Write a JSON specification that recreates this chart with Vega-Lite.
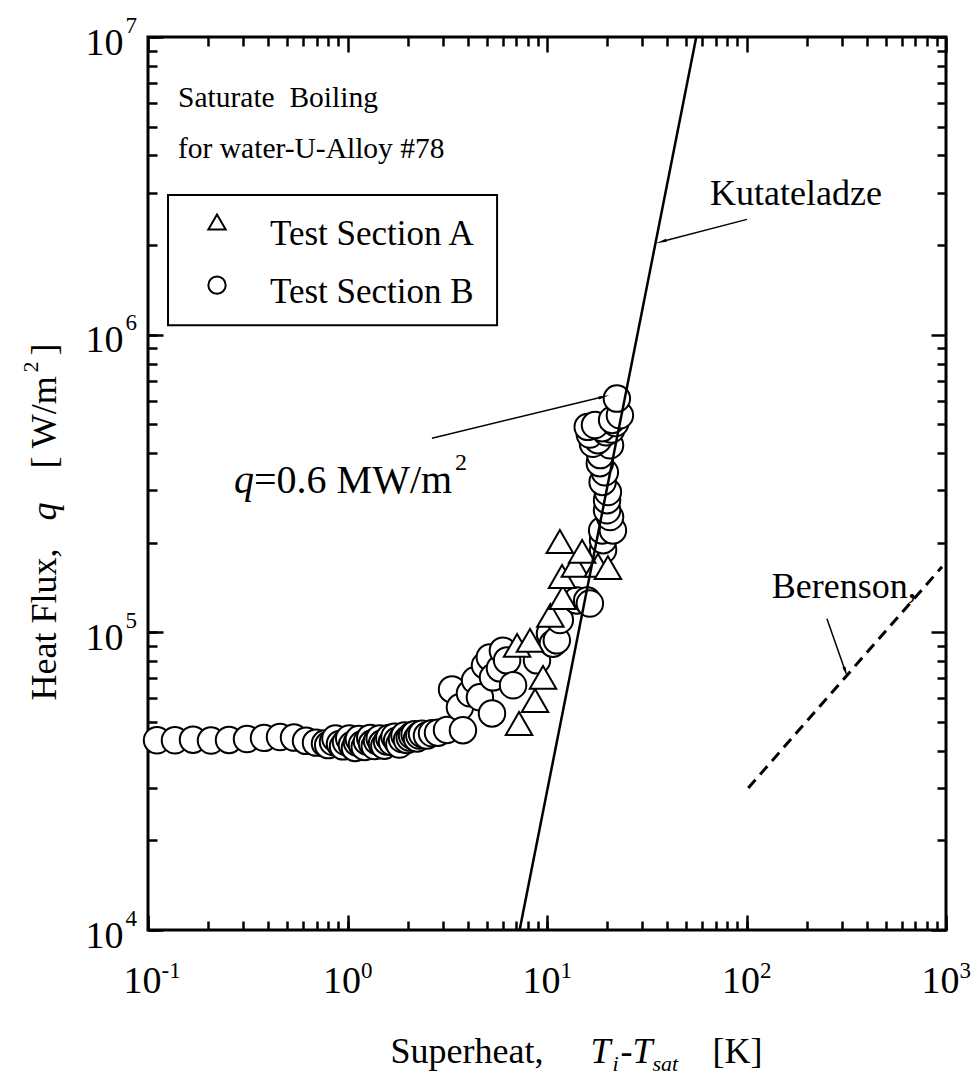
{
  "$schema": "https://vega.github.io/schema/vega-lite/v6.json",
  "width": 798,
  "height": 893,
  "autosize": "none",
  "padding": {"left": 148, "top": 37, "right": 28, "bottom": 157},
  "background": "white",
  "config": {
    "view": {"stroke": "black", "strokeWidth": 3},
    "font": "Liberation Serif",
    "axis": {"domain": false, "grid": false, "tickColor": "black", "tickWidth": 2.5, "labelColor": "black", "titleColor": "black", "labelFont": "Liberation Serif", "titleFont": "Liberation Serif", "labelFontWeight": "normal", "titleFontWeight": "normal", "labelFlush": false, "labelOverlap": false}
  },
  "resolve": {"axis": {"x": "independent", "y": "independent"}},
  "layer": [
    {
      "data": {"values": [
        {"section": "Test Section B", "dT": 0.111, "q": 43400},
        {"section": "Test Section B", "dT": 0.1365, "q": 43400},
        {"section": "Test Section B", "dT": 0.1681, "q": 43600},
        {"section": "Test Section B", "dT": 0.2069, "q": 43300},
        {"section": "Test Section B", "dT": 0.2547, "q": 43500},
        {"section": "Test Section B", "dT": 0.3134, "q": 43800},
        {"section": "Test Section B", "dT": 0.3815, "q": 44200},
        {"section": "Test Section B", "dT": 0.4588, "q": 44500},
        {"section": "Test Section B", "dT": 0.5393, "q": 44300},
        {"section": "Test Section B", "dT": 0.6194, "q": 43200},
        {"section": "Test Section B", "dT": 0.6953, "q": 42600},
        {"section": "Test Section B", "dT": 0.7713, "q": 42300},
        {"section": "Test Section B", "dT": 0.80, "q": 41800},
        {"section": "Test Section B", "dT": 0.8459, "q": 42800},
        {"section": "Test Section B", "dT": 0.87, "q": 44000},
        {"section": "Test Section B", "dT": 0.9171, "q": 42200},
        {"section": "Test Section B", "dT": 0.95, "q": 41400},
        {"section": "Test Section B", "dT": 0.9829, "q": 42800},
        {"section": "Test Section B", "dT": 1.02, "q": 44000},
        {"section": "Test Section B", "dT": 1.053, "q": 41800},
        {"section": "Test Section B", "dT": 1.09, "q": 40900},
        {"section": "Test Section B", "dT": 1.116, "q": 42700},
        {"section": "Test Section B", "dT": 1.14, "q": 43800},
        {"section": "Test Section B", "dT": 1.182, "q": 42000},
        {"section": "Test Section B", "dT": 1.22, "q": 41200},
        {"section": "Test Section B", "dT": 1.252, "q": 43000},
        {"section": "Test Section B", "dT": 1.30, "q": 44200},
        {"section": "Test Section B", "dT": 1.327, "q": 42300},
        {"section": "Test Section B", "dT": 1.37, "q": 41500},
        {"section": "Test Section B", "dT": 1.406, "q": 43200},
        {"section": "Test Section B", "dT": 1.45, "q": 44000},
        {"section": "Test Section B", "dT": 1.489, "q": 42300},
        {"section": "Test Section B", "dT": 1.53, "q": 41600},
        {"section": "Test Section B", "dT": 1.578, "q": 43000},
        {"section": "Test Section B", "dT": 1.62, "q": 44200},
        {"section": "Test Section B", "dT": 1.672, "q": 42800},
        {"section": "Test Section B", "dT": 1.72, "q": 44600},
        {"section": "Test Section B", "dT": 1.771, "q": 43200},
        {"section": "Test Section B", "dT": 1.82, "q": 42000},
        {"section": "Test Section B", "dT": 1.876, "q": 43800},
        {"section": "Test Section B", "dT": 1.93, "q": 45000},
        {"section": "Test Section B", "dT": 1.987, "q": 43500},
        {"section": "Test Section B", "dT": 2.05, "q": 44300},
        {"section": "Test Section B", "dT": 2.106, "q": 45000},
        {"section": "Test Section B", "dT": 2.17, "q": 45500},
        {"section": "Test Section B", "dT": 2.231, "q": 44000},
        {"section": "Test Section B", "dT": 2.29, "q": 45000},
        {"section": "Test Section B", "dT": 2.363, "q": 45600},
        {"section": "Test Section B", "dT": 2.503, "q": 45000},
        {"section": "Test Section B", "dT": 2.652, "q": 45800},
        {"section": "Test Section B", "dT": 2.842, "q": 46000},
        {"section": "Test Section B", "dT": 3.153, "q": 47000},
        {"section": "Test Section B", "dT": 3.341, "q": 64300},
        {"section": "Test Section B", "dT": 3.66, "q": 56000},
        {"section": "Test Section B", "dT": 3.79, "q": 46900},
        {"section": "Test Section B", "dT": 4.11, "q": 62400},
        {"section": "Test Section B", "dT": 4.36, "q": 69000},
        {"section": "Test Section B", "dT": 4.61, "q": 60500},
        {"section": "Test Section B", "dT": 4.89, "q": 77400},
        {"section": "Test Section B", "dT": 5.17, "q": 82400},
        {"section": "Test Section B", "dT": 5.30, "q": 53400},
        {"section": "Test Section B", "dT": 5.36, "q": 70600},
        {"section": "Test Section B", "dT": 5.81, "q": 75700},
        {"section": "Test Section B", "dT": 6.01, "q": 86800},
        {"section": "Test Section B", "dT": 6.31, "q": 80500},
        {"section": "Test Section B", "dT": 6.76, "q": 66400},
        {"section": "Test Section B", "dT": 8.91, "q": 80500},
        {"section": "Test Section B", "dT": 10.35, "q": 99000},
        {"section": "Test Section B", "dT": 10.7, "q": 91600},
        {"section": "Test Section B", "dT": 11.2, "q": 94000},
        {"section": "Test Section B", "dT": 11.6, "q": 110000},
        {"section": "Test Section B", "dT": 14.1, "q": 128000},
        {"section": "Test Section B", "dT": 15.9, "q": 128000},
        {"section": "Test Section B", "dT": 16.4, "q": 125000},
        {"section": "Test Section B", "dT": 19.1, "q": 189000},
        {"section": "Test Section B", "dT": 19.1, "q": 204000},
        {"section": "Test Section B", "dT": 18.9, "q": 220000},
        {"section": "Test Section B", "dT": 21.4, "q": 220000},
        {"section": "Test Section B", "dT": 20.7, "q": 244000},
        {"section": "Test Section B", "dT": 20.0, "q": 257000},
        {"section": "Test Section B", "dT": 20.0, "q": 278000},
        {"section": "Test Section B", "dT": 20.2, "q": 296000},
        {"section": "Test Section B", "dT": 19.0, "q": 320000},
        {"section": "Test Section B", "dT": 19.5, "q": 345000},
        {"section": "Test Section B", "dT": 18.4, "q": 370000},
        {"section": "Test Section B", "dT": 18.5, "q": 394000},
        {"section": "Test Section B", "dT": 20.7, "q": 425000},
        {"section": "Test Section B", "dT": 17.0, "q": 430000},
        {"section": "Test Section B", "dT": 18.0, "q": 442000},
        {"section": "Test Section B", "dT": 16.4, "q": 462000},
        {"section": "Test Section B", "dT": 19.8, "q": 470000},
        {"section": "Test Section B", "dT": 21.0, "q": 480000},
        {"section": "Test Section B", "dT": 18.9, "q": 485000},
        {"section": "Test Section B", "dT": 16.0, "q": 490000},
        {"section": "Test Section B", "dT": 17.4, "q": 497000},
        {"section": "Test Section B", "dT": 22.0, "q": 505000},
        {"section": "Test Section B", "dT": 21.2, "q": 517000},
        {"section": "Test Section B", "dT": 23.2, "q": 536000},
        {"section": "Test Section B", "dT": 22.4, "q": 610000},
        {"section": "Test Section A", "dT": 7.24, "q": 49400},
        {"section": "Test Section A", "dT": 8.71, "q": 59000},
        {"section": "Test Section A", "dT": 9.55, "q": 70600},
        {"section": "Test Section A", "dT": 7.08, "q": 90400},
        {"section": "Test Section A", "dT": 8.22, "q": 94000},
        {"section": "Test Section A", "dT": 10.4, "q": 114000},
        {"section": "Test Section A", "dT": 12.0, "q": 131000},
        {"section": "Test Section A", "dT": 11.9, "q": 154000},
        {"section": "Test Section A", "dT": 13.8, "q": 168000},
        {"section": "Test Section A", "dT": 18.0, "q": 168000},
        {"section": "Test Section A", "dT": 20.2, "q": 165000},
        {"section": "Test Section A", "dT": 15.0, "q": 187000},
        {"section": "Test Section A", "dT": 11.6, "q": 202000}
      ]},
      "mark": {"type": "point", "filled": true, "fill": "white", "stroke": "black", "strokeWidth": 2, "size": 700, "opacity": 1},
      "encoding": {
        "x": {"field": "dT", "type": "quantitative", "scale": {"type": "log", "domain": [0.1, 1000], "nice": false},
          "axis": {"orient": "bottom", "values": [0.1, 1, 10, 100, 1000], "tickSize": -15, "labelExpr": "'10'", "labelFontSize": 38, "labelPadding": 47, "labelOffset": -6, "labelBaseline": "top",
            "title": "Superheat,", "titleFontSize": 36, "titleX": 242, "titleY": 132, "titleAlign": "left", "titleBaseline": "alphabetic", "titleAngle": 0}},
        "y": {"field": "q", "type": "quantitative", "scale": {"type": "log", "domain": [10000, 10000000], "nice": false},
          "axis": {"orient": "left", "values": [10000, 100000, 1000000, 10000000], "tickSize": -15, "labelExpr": "'10'", "labelFontSize": 38, "labelPadding": 40, "labelOffset": 6, "labelBaseline": "middle",
            "title": "Heat Flux,", "titleFontSize": 36, "titleAngle": -90, "titleX": -93, "titleY": 663, "titleAlign": "left", "titleBaseline": "alphabetic"}},
        "shape": {"field": "section", "type": "nominal",
          "scale": {"domain": ["Test Section A", "Test Section B"], "range": ["triangle-up", "circle"]},
          "legend": null}
      }
    },
    {
      "data": {"values": [{"dT": 7.29, "q": 10000}, {"dT": 56.0, "q": 10000000}]},
      "mark": {"type": "line", "color": "black", "strokeWidth": 2.5},
      "encoding": {
        "x": {"field": "dT", "type": "quantitative", "scale": {"type": "log", "domain": [0.1, 1000], "nice": false},
          "axis": {"orient": "bottom", "values": [0.1, 0.2, 0.3, 0.4, 0.5, 0.6, 0.7, 0.8, 0.9, 1, 2, 3, 4, 5, 6, 7, 8, 9, 10, 20, 30, 40, 50, 60, 70, 80, 90, 100, 200, 300, 400, 500, 600, 700, 800, 900, 1000],
            "tickSize": -9, "labelExpr": "datum.value == 0.1 ? '-1' : datum.value == 1 ? '0' : datum.value == 10 ? '1' : datum.value == 100 ? '2' : datum.value == 1000 ? '3' : ''",
            "labelFontSize": 23, "labelAlign": "left", "labelOffset": 13, "labelPadding": 38, "labelBaseline": "top",
            "title": "T", "titleFontStyle": "italic", "titleFontSize": 36, "titleX": 442, "titleY": 132, "titleAlign": "left", "titleBaseline": "alphabetic", "titleAngle": 0}},
        "y": {"field": "q", "type": "quantitative", "scale": {"type": "log", "domain": [10000, 10000000], "nice": false},
          "axis": {"orient": "left", "values": [10000, 20000, 30000, 40000, 50000, 60000, 70000, 80000, 90000, 100000, 200000, 300000, 400000, 500000, 600000, 700000, 800000, 900000, 1000000, 2000000, 3000000, 4000000, 5000000, 6000000, 7000000, 8000000, 9000000, 10000000],
            "tickSize": -9, "labelExpr": "datum.value == 10000 ? '4' : datum.value == 100000 ? '5' : datum.value == 1000000 ? '6' : datum.value == 10000000 ? '7' : ''",
            "labelFontSize": 23, "labelAlign": "left", "labelPadding": 32, "labelOffset": -12, "labelBaseline": "middle",
            "title": "q", "titleFontStyle": "italic", "titleFontSize": 36, "titleAngle": -90, "titleX": -93, "titleY": 483, "titleAlign": "left", "titleBaseline": "alphabetic"}}
      }
    },
    {
      "data": {"values": [{"dT": 102, "q": 30000}, {"dT": 955, "q": 166000}]},
      "mark": {"type": "line", "color": "black", "strokeWidth": 3, "strokeDash": [11, 7]},
      "encoding": {
        "x": {"field": "dT", "type": "quantitative", "scale": {"type": "log", "domain": [0.1, 1000], "nice": false},
          "axis": {"orient": "top", "values": [0.1, 1, 10, 100, 1000], "tickSize": -15, "labels": false,
            "title": "i", "titleFontStyle": "italic", "titleFontSize": 22, "titleX": 464, "titleY": 1033, "titleAlign": "left", "titleBaseline": "alphabetic", "titleAngle": 0}},
        "y": {"field": "q", "type": "quantitative", "scale": {"type": "log", "domain": [10000, 10000000], "nice": false},
          "axis": {"orient": "right", "values": [10000, 100000, 1000000, 10000000], "tickSize": -15, "labels": false,
            "title": "[ W/m", "titleFontSize": 36, "titleAngle": -90, "titleX": -891, "titleY": 431, "titleAlign": "left", "titleBaseline": "alphabetic"}}
      }
    },
    {
      "data": {"values": [
        {"dT": 100.6, "q": 2440000, "dT2": 38.1, "q2": 2060000},
        {"dT": 2.65, "q": 449000, "dT2": 18.9, "q2": 617000},
        {"dT": 253, "q": 111000, "dT2": 312, "q2": 74500}
      ]},
      "mark": {"type": "rule", "color": "black", "strokeWidth": 1.5},
      "encoding": {
        "x": {"field": "dT", "type": "quantitative", "scale": {"type": "log", "domain": [0.1, 1000], "nice": false},
          "axis": {"orient": "top", "values": [0.2, 0.3, 0.4, 0.5, 0.6, 0.7, 0.8, 0.9, 2, 3, 4, 5, 6, 7, 8, 9, 20, 30, 40, 50, 60, 70, 80, 90, 200, 300, 400, 500, 600, 700, 800, 900], "tickSize": -9, "labels": false,
            "title": "-T", "titleFontStyle": "italic", "titleFontSize": 36, "titleX": 472, "titleY": 1025, "titleAlign": "left", "titleBaseline": "alphabetic", "titleAngle": 0}},
        "y": {"field": "q", "type": "quantitative", "scale": {"type": "log", "domain": [10000, 10000000], "nice": false},
          "axis": {"orient": "right", "values": [20000, 30000, 40000, 50000, 60000, 70000, 80000, 90000, 200000, 300000, 400000, 500000, 600000, 700000, 800000, 900000, 2000000, 3000000, 4000000, 5000000, 6000000, 7000000, 8000000, 9000000], "tickSize": -9, "labels": false,
            "title": "2", "titleFontSize": 22, "titleAngle": -90, "titleX": -909, "titleY": 335, "titleAlign": "left", "titleBaseline": "alphabetic"}},
        "x2": {"field": "dT2"},
        "y2": {"field": "q2"}
      }
    },
    {
      "data": {"values": [
        {"dT": 0.1414, "q": 5820000, "label": "Saturate\u00a0\u00a0Boiling"},
        {"dT": 0.1414, "q": 3920000, "label": "for water-U-Alloy #78"}
      ]},
      "mark": {"type": "text", "align": "left", "baseline": "alphabetic", "fontSize": 29.5, "font": "Liberation Serif", "color": "black"},
      "encoding": {
        "x": {"field": "dT", "type": "quantitative", "scale": {"type": "log", "domain": [0.1, 1000], "nice": false},
          "axis": {"orient": "bottom", "ticks": false, "labels": false,
            "title": "sat", "titleFontStyle": "italic", "titleFontSize": 22, "titleX": 504, "titleY": 140, "titleAlign": "left", "titleBaseline": "alphabetic", "titleAngle": 0}},
        "y": {"field": "q", "type": "quantitative", "scale": {"type": "log", "domain": [10000, 10000000], "nice": false},
          "axis": {"orient": "left", "ticks": false, "labels": false,
            "title": "]", "titleFontSize": 36, "titleAngle": -90, "titleX": -93, "titleY": 318, "titleAlign": "left", "titleBaseline": "alphabetic"}},
        "text": {"field": "label"}
      }
    },
    {
      "data": {"values": [
        {"dT": 65.6, "q": 2720000, "label": "Kutateladze"},
        {"dT": 134, "q": 130000, "label": "Berenson,"}
      ]},
      "mark": {"type": "text", "align": "left", "baseline": "alphabetic", "fontSize": 36, "font": "Liberation Serif", "color": "black"},
      "encoding": {
        "x": {"field": "dT", "type": "quantitative", "scale": {"type": "log", "domain": [0.1, 1000], "nice": false},
          "axis": {"orient": "bottom", "ticks": false, "labels": false,
            "title": "[K]", "titleFontSize": 36, "titleX": 564, "titleY": 132, "titleAlign": "left", "titleBaseline": "alphabetic", "titleAngle": 0}},
        "y": {"field": "q", "type": "quantitative", "scale": {"type": "log", "domain": [10000, 10000000], "nice": false}, "axis": null},
        "text": {"field": "label"}
      }
    },
    {
      "data": {"values": [{"dT": 0.340, "q": 293000, "label": "=0.6 MW/m"}]},
      "mark": {"type": "text", "align": "left", "baseline": "alphabetic", "fontSize": 40, "font": "Liberation Serif", "color": "black"},
      "encoding": {
        "x": {"field": "dT", "type": "quantitative", "scale": {"type": "log", "domain": [0.1, 1000], "nice": false}, "axis": null},
        "y": {"field": "q", "type": "quantitative", "scale": {"type": "log", "domain": [10000, 10000000], "nice": false}, "axis": null},
        "text": {"field": "label"}
      }
    },
    {
      "data": {"values": [{"dT": 0.270, "q": 293000, "label": "q"}]},
      "mark": {"type": "text", "align": "left", "baseline": "alphabetic", "fontSize": 40, "font": "Liberation Serif", "fontStyle": "italic", "color": "black"},
      "encoding": {
        "x": {"field": "dT", "type": "quantitative", "scale": {"type": "log", "domain": [0.1, 1000], "nice": false}, "axis": null},
        "y": {"field": "q", "type": "quantitative", "scale": {"type": "log", "domain": [10000, 10000000], "nice": false}, "axis": null},
        "text": {"field": "label"}
      }
    },
    {
      "data": {"values": [{"dT": 3.46, "q": 350000, "label": "2"}]},
      "mark": {"type": "text", "align": "left", "baseline": "alphabetic", "fontSize": 24, "font": "Liberation Serif", "color": "black"},
      "encoding": {
        "x": {"field": "dT", "type": "quantitative", "scale": {"type": "log", "domain": [0.1, 1000], "nice": false}, "axis": null},
        "y": {"field": "q", "type": "quantitative", "scale": {"type": "log", "domain": [10000, 10000000], "nice": false}, "axis": null},
        "text": {"field": "label"}
      }
    },
    {
      "data": {"values": [{"dT": 38.1, "q": 2060000}]},
      "mark": {"type": "point", "shape": "wedge", "angle": 255, "size": 160, "filled": true, "color": "black", "opacity": 1},
      "encoding": {
        "x": {"field": "dT", "type": "quantitative", "scale": {"type": "log", "domain": [0.1, 1000], "nice": false}, "axis": null},
        "y": {"field": "q", "type": "quantitative", "scale": {"type": "log", "domain": [10000, 10000000], "nice": false}, "axis": null}
      }
    },
    {
      "data": {"values": [{"dT": 18.9, "q": 617000}]},
      "mark": {"type": "point", "shape": "wedge", "angle": 76, "size": 160, "filled": true, "color": "black", "opacity": 1},
      "encoding": {
        "x": {"field": "dT", "type": "quantitative", "scale": {"type": "log", "domain": [0.1, 1000], "nice": false}, "axis": null},
        "y": {"field": "q", "type": "quantitative", "scale": {"type": "log", "domain": [10000, 10000000], "nice": false}, "axis": null}
      }
    },
    {
      "data": {"values": [{"dT": 312, "q": 74500}]},
      "mark": {"type": "point", "shape": "wedge", "angle": 161, "size": 160, "filled": true, "color": "black", "opacity": 1},
      "encoding": {
        "x": {"field": "dT", "type": "quantitative", "scale": {"type": "log", "domain": [0.1, 1000], "nice": false}, "axis": null},
        "y": {"field": "q", "type": "quantitative", "scale": {"type": "log", "domain": [10000, 10000000], "nice": false}, "axis": null}
      }
    },
    {
      "data": {"values": [{"dT": 0.126, "dT2": 5.62, "q": 2943000, "q2": 1076000}]},
      "mark": {"type": "rect", "fill": "white", "stroke": "black", "strokeWidth": 2},
      "encoding": {
        "x": {"field": "dT", "type": "quantitative", "scale": {"type": "log", "domain": [0.1, 1000], "nice": false}, "axis": null},
        "x2": {"field": "dT2"},
        "y": {"field": "q", "type": "quantitative", "scale": {"type": "log", "domain": [10000, 10000000], "nice": false}, "axis": null},
        "y2": {"field": "q2"}
      }
    },
    {
      "data": {"values": [
        {"section": "Test Section A", "dT": 0.2218, "q": 2389000},
        {"section": "Test Section B", "dT": 0.2218, "q": 1467000}
      ]},
      "mark": {"type": "point", "filled": true, "fill": "white", "stroke": "black", "strokeWidth": 2, "size": 300, "opacity": 1},
      "encoding": {
        "x": {"field": "dT", "type": "quantitative", "scale": {"type": "log", "domain": [0.1, 1000], "nice": false}, "axis": null},
        "y": {"field": "q", "type": "quantitative", "scale": {"type": "log", "domain": [10000, 10000000], "nice": false}, "axis": null},
        "shape": {"field": "section", "type": "nominal", "scale": {"domain": ["Test Section A", "Test Section B"], "range": ["triangle-up", "circle"]}, "legend": null}
      }
    },
    {
      "data": {"values": [
        {"section": "Test Section A", "dT": 0.4089, "q": 2000000},
        {"section": "Test Section B", "dT": 0.4089, "q": 1276000}
      ]},
      "mark": {"type": "text", "align": "left", "baseline": "alphabetic", "fontSize": 35, "font": "Liberation Serif", "color": "black"},
      "encoding": {
        "x": {"field": "dT", "type": "quantitative", "scale": {"type": "log", "domain": [0.1, 1000], "nice": false}, "axis": null},
        "y": {"field": "q", "type": "quantitative", "scale": {"type": "log", "domain": [10000, 10000000], "nice": false}, "axis": null},
        "text": {"field": "section"}
      }
    }
  ]
}
